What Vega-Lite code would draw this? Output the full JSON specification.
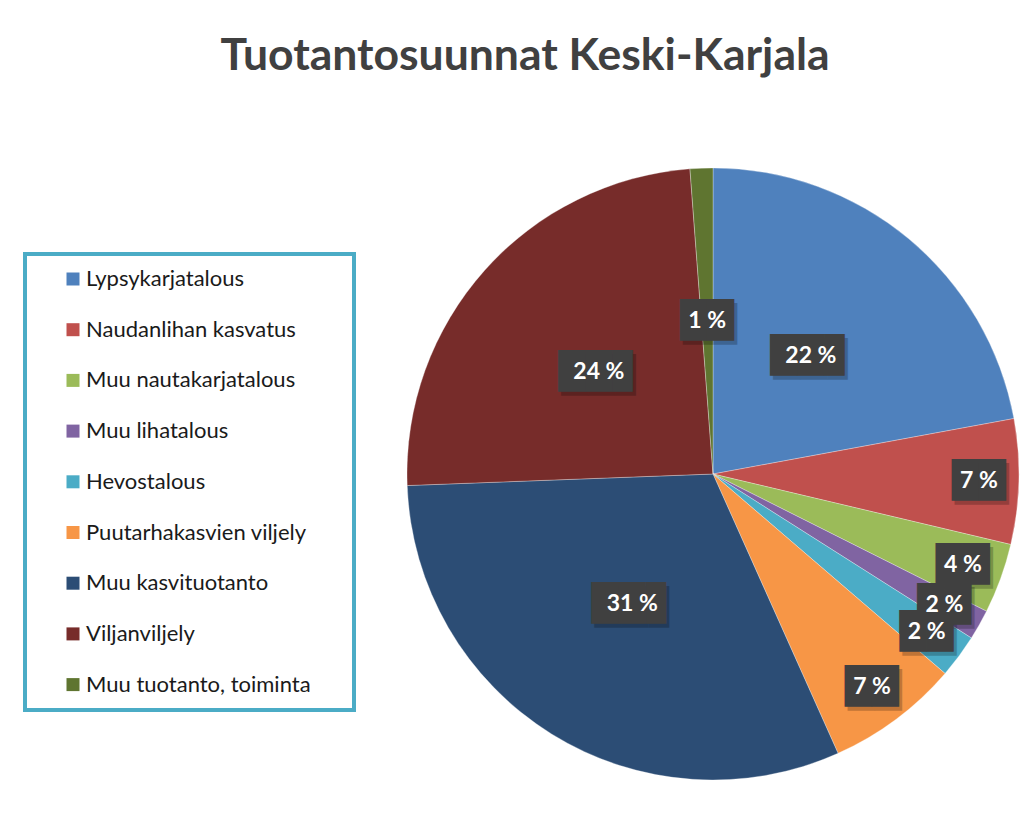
{
  "$schema": "https://vega.github.io/schema/vega-lite/v6.json",
  "width": 612,
  "height": 612,
  "autosize": {"type": "none"},
  "padding": {"left": 407, "top": 168, "right": 14, "bottom": 38},
  "background": "white",
  "config": {"view": {"stroke": null}, "legend": {"strokeWidth": 4}},
  "title": {
    "text": "Tuotantosuunnat Keski-Karjala",
    "font": "Lato",
    "fontWeight": "bold",
    "fontSize": 44.5,
    "color": "#404040",
    "anchor": "middle",
    "frame": "group",
    "baseline": "alphabetic",
    "offset": 52,
    "dx": -188
  },
  "data": {
    "values": [
      {"category": "Lypsykarjatalous", "share": 22.1},
      {"category": "Naudanlihan kasvatus", "share": 6.6},
      {"category": "Muu nautakarjatalous", "share": 3.7},
      {"category": "Muu lihatalous", "share": 1.6},
      {"category": "Hevostalous", "share": 2.3},
      {"category": "Puutarhakasvien viljely", "share": 7.0},
      {"category": "Muu kasvituotanto", "share": 31.1},
      {"category": "Viljanviljely", "share": 24.4},
      {"category": "Muu tuotanto, toiminta", "share": 1.2}
    ]
  },
  "transform": [
    {"window": [{"op": "row_number", "as": "ord"}]},
    {"stack": "share", "groupby": [], "sort": [{"field": "ord", "order": "ascending"}], "as": ["s0", "s1"]},
    {"calculate": "(datum.s0 + datum.s1) / 2", "as": "mid"},
    {"calculate": "format(datum.share, '.0f') + ' %'", "as": "label"},
    {"calculate": "length(datum.label) > 3 ? '██▊' : '██'", "as": "box"}
  ],
  "layer": [
    {
      "mark": {"type": "arc", "outerRadius": 306, "stroke": "#ffffff", "strokeWidth": 0.6, "strokeOpacity": 0.5},
      "encoding": {
        "theta": {"field": "s0", "type": "quantitative", "stack": null, "scale": {"domain": [0, 100]}},
        "theta2": {"field": "s1"},
        "color": {
          "field": "category",
          "type": "nominal",
          "sort": ["Lypsykarjatalous", "Naudanlihan kasvatus", "Muu nautakarjatalous", "Muu lihatalous", "Hevostalous", "Puutarhakasvien viljely", "Muu kasvituotanto", "Viljanviljely", "Muu tuotanto, toiminta"],
          "scale": {
            "domain": ["Lypsykarjatalous", "Naudanlihan kasvatus", "Muu nautakarjatalous", "Muu lihatalous", "Hevostalous", "Puutarhakasvien viljely", "Muu kasvituotanto", "Viljanviljely", "Muu tuotanto, toiminta"],
            "range": ["#4F81BD", "#C0504D", "#9BBB59", "#8064A2", "#4BACC6", "#F79646", "#2C4D75", "#772C2A", "#5F7530"]
          },
          "legend": {
            "orient": "none",
            "legendX": -382,
            "legendY": 86,
            "title": "\u00a0",
            "titleOrient": "right",
            "titlePadding": 29,
            "titleFontSize": 10,
            "symbolType": "square",
            "symbolSize": 169,
            "symbolStrokeWidth": 0,
            "labelFont": "Lato",
            "labelFontSize": 22,
            "labelColor": "#1a1a1a",
            "labelLimit": 500,
            "labelOffset": 2,
            "rowPadding": 28.7,
            "padding": 14,
            "symbolOffset": 23,
            "strokeColor": "#4BACC6",
            "fillColor": "#ffffff"
          }
        }
      }
    },
    {
      "transform": [{"filter": "datum.share >= 10 || datum.share < 1.5"}],
      "encoding": {
        "theta": {"field": "mid", "type": "quantitative", "stack": null, "scale": {"domain": [0, 100]}}
      },
      "layer": [
        {
          "mark": {"type": "text", "radius": 153, "font": "DejaVu Sans", "fontSize": 35, "color": "#000000", "opacity": 0.22, "dx": 3, "dy": 4, "baseline": "middle", "align": "center"},
          "encoding": {"text": {"field": "box"}}
        },
        {
          "mark": {"type": "text", "radius": 153, "font": "DejaVu Sans", "fontSize": 35, "color": "#404040", "baseline": "middle", "align": "center"},
          "encoding": {"text": {"field": "box"}}
        },
        {
          "mark": {"type": "text", "radius": 153, "font": "Lato", "fontWeight": "bold", "fontSize": 23, "color": "#ffffff", "baseline": "middle", "align": "center"},
          "encoding": {"text": {"field": "label"}}
        }
      ]
    },
    {
      "transform": [{"filter": "datum.share < 10 && datum.share >= 1.5"}],
      "encoding": {
        "theta": {"field": "mid", "type": "quantitative", "stack": null, "scale": {"domain": [0, 100]}}
      },
      "layer": [
        {
          "mark": {"type": "text", "radius": 266, "font": "DejaVu Sans", "fontSize": 35, "color": "#000000", "opacity": 0.22, "dx": 3, "dy": 4, "baseline": "middle", "align": "center"},
          "encoding": {"text": {"field": "box"}}
        },
        {
          "mark": {"type": "text", "radius": 266, "font": "DejaVu Sans", "fontSize": 35, "color": "#404040", "baseline": "middle", "align": "center"},
          "encoding": {"text": {"field": "box"}}
        },
        {
          "mark": {"type": "text", "radius": 266, "font": "Lato", "fontWeight": "bold", "fontSize": 23, "color": "#ffffff", "baseline": "middle", "align": "center"},
          "encoding": {"text": {"field": "label"}}
        }
      ]
    }
  ]
}
